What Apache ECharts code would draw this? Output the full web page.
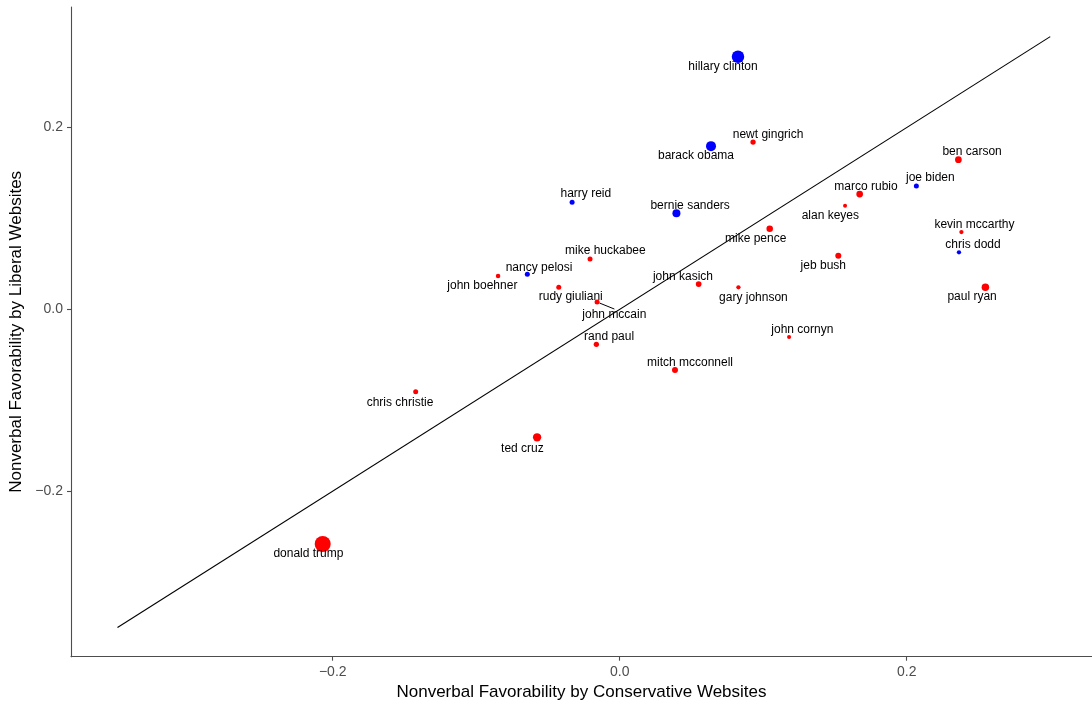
<!DOCTYPE html>
<html>
<head>
<meta charset="utf-8">
<script src="https://cdn.jsdelivr.net/npm/echarts@6/dist/echarts.min.js"></script>
<style>
html,body{margin:0;padding:0;background:#fff;}
#chart{width:1092px;height:702px;}
</style>
</head>
<body>
<div id="chart"></div>
<script>
// ---- data ----
const names = ["hillary clinton","barack obama","newt gingrich","harry reid","bernie sanders","mike pence",
  "mike huckabee","nancy pelosi","john boehner","rudy giuliani","john mccain","john kasich","gary johnson",
  "rand paul","john cornyn","ben carson","joe biden","marco rubio","alan keyes","kevin mccarthy","chris dodd",
  "jeb bush","paul ryan","mitch mcconnell","chris christie","ted cruz","donald trump"];
const party = ["D","D","R","D","D","R","R","D","R","R","R","R","R","R","R","R","D","R","R","R","D","R","R","R","R","R","R"];
const conservative = [0.0824,0.0636,0.0929,-0.0332,0.0395,0.1045,-0.0207,-0.0644,-0.0848,-0.0425,-0.0158,0.0550,0.0827,
  -0.0163,0.1180,0.2360,0.2067,0.1672,0.1570,0.2381,0.2364,0.1523,0.2548,0.0385,-0.1422,-0.0576,-0.2070];
const liberal = [0.2779,0.1795,0.1840,0.1177,0.1056,0.0887,0.0553,0.0385,0.0366,0.0242,0.0080,0.0278,0.0242,
  -0.0385,-0.0305,0.1646,0.1356,0.1268,0.1140,0.0850,0.0627,0.0590,0.0242,-0.0668,-0.0906,-0.1408,-0.2582];
const refLine = [-0.35, 0.30];
const xTicks = [-0.2, 0.0, 0.2];
const yTicks = [-0.2, 0.0, 0.2];

// ---- layout / style (not data) ----
const pointSize = [12.5,10,5.3,5,8,6.5,5,5,4.5,5,5,5.7,4.3,5.3,4,6.7,5,6.7,4,4.3,4.3,6,7.5,6,5,8.3,16];
const labelOffset = [[-15,10],[-15,10],[15,-7.5],[13.7,-8.5],[13.7,-7.5],[-14,10],[15.3,-8.3],[11.7,-6.5],[-15.7,10],
  [12,9.5],[17.3,13],[-15.7,-7.3],[15,10.5],[12.7,-7.3],[13.3,-7],[13.7,-8],[14,-8.3],[6.3,-7.5],[-14.7,10],[13,-7.3],
  [14,-7.5],[-15,10],[-13.3,9.5],[15,-7.3],[-15.7,11],[-14.7,11],[-14.3,9.5]];
const colorMap = {D:"#0000FF", R:"#FF0000"};
const FONT = "'Liberation Sans', Arial, Helvetica, sans-serif";

const fmt = v => (v < 0 ? "\u2212" : "") + Math.abs(v).toFixed(1);

const pts = names.map((n,i) => {
  const item = {
    name: n,
    value: [conservative[i], liberal[i]],
    symbolSize: pointSize[i],
    itemStyle: {color: colorMap[party[i]], opacity: 1}
  };
  if (n === "john mccain") {
    item.labelLine = {show: true, lineStyle: {color: "#000", width: 1, opacity: 1}};
  }
  return item;
});

const chart = echarts.init(document.getElementById('chart'), null, {renderer: 'canvas'});
const axisCommon = {
  axisLine: {show: true, onZero: false, lineStyle: {color: "#4d4d4d", width: 1.1}},
  axisTick: {show: true, length: 4, lineStyle: {color: "#4d4d4d", width: 1.1}},
  splitLine: {show: false},
  nameLocation: 'middle',
  nameTextStyle: {fontFamily: FONT, fontSize: 17, color: "#000"}
};
chart.setOption({
  animation: false,
  backgroundColor: "#fff",
  grid: {left: 71, right: 0, top: 7, bottom: 45.3, containLabel: false, outerBoundsMode: 'none'},
  xAxis: Object.assign({}, axisCommon, {
    type: 'value', min: -0.3824, max: 0.3291,
    name: "Nonverbal Favorability by Conservative Websites", nameGap: 25,
    axisTick: Object.assign({}, axisCommon.axisTick, {customValues: xTicks}),
    axisLabel: {customValues: xTicks, formatter: fmt, fontFamily: FONT, fontSize: 14, color: "#4d4d4d", margin: 8}
  }),
  yAxis: Object.assign({}, axisCommon, {
    type: 'value', min: -0.3822, max: 0.3326,
    name: "Nonverbal Favorability by Liberal Websites", nameGap: 44,
    axisTick: Object.assign({}, axisCommon.axisTick, {customValues: yTicks}),
    axisLabel: {customValues: yTicks, formatter: fmt, fontFamily: FONT, fontSize: 14, color: "#4d4d4d", margin: 8}
  }),
  series: [
    {
      type: 'line',
      data: [[refLine[0], refLine[0]], [refLine[1], refLine[1]]],
      symbol: 'none',
      lineStyle: {color: "#000", width: 1.1},
      z: 1,
      silent: true
    },
    {
      type: 'scatter',
      data: pts,
      z: 2,
      itemStyle: {opacity: 1},
      label: {
        show: true,
        position: 'inside',
        formatter: p => p.name,
        fontFamily: FONT,
        fontSize: 12,
        color: "#000",
        opacity: 1,
        textBorderWidth: 0
      },
      labelLayout: p => ({dx: labelOffset[p.dataIndex][0], dy: labelOffset[p.dataIndex][1]}),
      labelLine: {show: false}
    }
  ]
});
</script>
</body>
</html>
